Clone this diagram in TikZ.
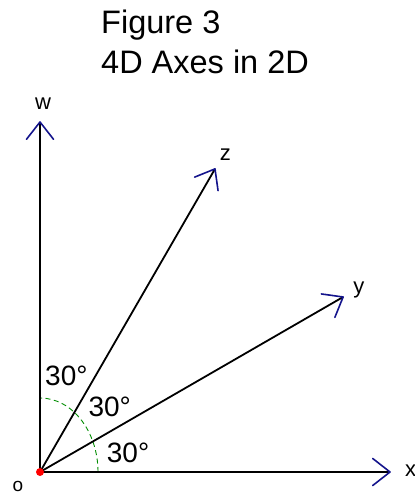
\documentclass[tikz,border=0pt]{standalone}
\usepackage{fontspec}
\setmainfont{Liberation Sans}
\usetikzlibrary{calc}
\definecolor{arrowblue}{RGB}{20,20,140}
\definecolor{arcgreen}{RGB}{0,140,0}
\begin{document}
\begin{tikzpicture}[x=1pt,y=1pt,
  axis/.style={line width=1.8pt, black},
  barb/.style={line width=1.6pt, arrowblue, line cap=round, line join=round},
  lbl/.style={inner sep=0, anchor=base, font=\fontsize{22}{26}\selectfont},
  ang/.style={inner sep=0, anchor=base west, font=\fontsize{28}{32}\selectfont},
  ttl/.style={inner sep=0, anchor=base west, font=\fontsize{32.5}{38}\selectfont},
  arcline/.style={arcgreen, line width=0.9pt, dash pattern=on 5pt off 3.5pt}]
\useasboundingbox (0,0) rectangle (414,494);
% title
\node[ttl] (t1) at (101,460.7) {Figure 3};
\node[ttl] (t2) at (101,420.7) {4D Axes in 2D};
% axes
\coordinate (O) at (40,22);
\coordinate (W) at (40,372);
\coordinate (Z) at (215,325.1);
\coordinate (Y) at (343.1,197);
\coordinate (X) at (390,22);
% angle arc
\draw[arcline] (98,22) arc[start angle=0, end angle=90, x radius=58, y radius=74];
\foreach \e in {W,Z,Y,X}{
  \draw[axis] (O) -- (\e);
  \draw[barb] ($(\e)!22pt!38:(O)$) -- (\e) -- ($(\e)!22pt!-38:(O)$);
}
\fill[red] (O) circle (4);
% labels
\node[lbl] (lw) at (43,384.7) {w};
\node[lbl] (lz) at (225.3,333) {z};
\node[lbl] (ly) at (358.8,200.7) {y};
\node[lbl, anchor=base west] (lx) at (405,17) {x};
\node[lbl, font=\fontsize{19}{22}\selectfont] (lo) at (18,2.3) {o};
\node[ang] (a1) at (45,108.3) {30°};
\node[ang] (a2) at (88.3,77.3) {30°};
\node[ang] (a3) at (106.7,31.3) {30°};
\end{tikzpicture}
\end{document}
